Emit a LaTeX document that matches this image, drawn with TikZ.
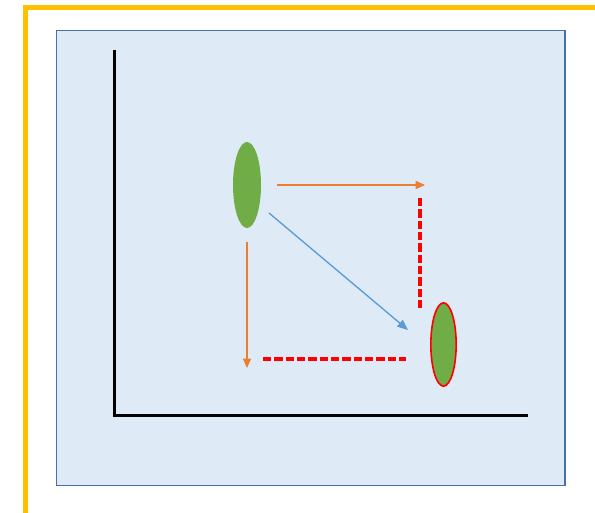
\documentclass[tikz,border=0pt]{standalone}
\usetikzlibrary{arrows.meta,shapes.geometric}
\definecolor{frameyellow}{HTML}{FFC000}
\definecolor{panelblue}{HTML}{DEEAF6}
\definecolor{paneledge}{HTML}{4A6FA8}
\definecolor{dotgreen}{HTML}{70AD47}
\definecolor{moveorange}{HTML}{ED7D31}
\definecolor{moveblue}{HTML}{5B9BD5}
\tikzset{
  blob/.style={ellipse,fill=dotgreen,inner sep=0pt,minimum width=21pt,minimum height=64.5pt},
  stepline/.style={moveorange,line width=1pt,-{Triangle[length=7pt,width=6pt]}},
  diagline/.style={moveblue,line width=1pt,-{Triangle[length=8pt,width=6.5pt]}},
  gapline/.style={red,line width=2.5pt,dash pattern=on 6.2pt off 2.3pt}
}
\begin{document}
\begin{tikzpicture}[x=0.75pt,y=-0.75pt]
  \useasboundingbox (0,0) rectangle (595,513);
  \begin{scope}
    \clip (0,0) rectangle (595,513);
    \draw[frameyellow,line width=3.8pt] (25.5,520) -- (25.5,7.5) -- (600,7.5);
  \end{scope}
  \draw[paneledge,fill=panelblue,line width=1pt] (56.5,30.5) rectangle (565,485.5);
  % axes
  \draw[line width=2.3pt] (114.5,50) -- (114.5,415.5) -- (528,415.5);

  \node[blob] (start) at (247,185) {};
  \node[blob,draw=red,line width=1.2pt,minimum width=19pt,minimum height=62.5pt] (goal) at (443.5,344.5) {};

  \coordinate (rightend) at (425,185);
  \coordinate (downend) at (247,368);
  \coordinate (diagend) at (408,330);
  \draw[stepline] (277,185) -- (rightend);
  \draw[stepline] (247,242) -- (downend);
  \draw[diagline] (269,213) -- (diagend);

  \draw[gapline] (420,198) -- (420,311);
  \draw[gapline] (263,359) -- (406,359);
\end{tikzpicture}
\end{document}
